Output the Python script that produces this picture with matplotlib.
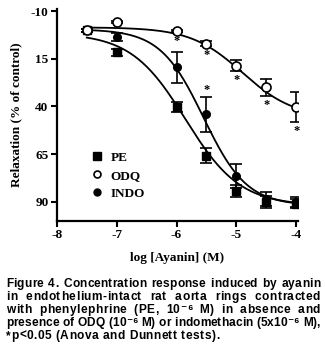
import numpy as np
import matplotlib
matplotlib.use("Agg")
import matplotlib.pyplot as plt
from matplotlib.lines import Line2D

# ---- data ----
log_conc = [-7.5, -7, -6, -5.5, -5, -4.5, -4]
pe_mean = [0.0, 11.7, 40.3, 65.9, 84.3, 90.0, 91.0]
pe_err = [0.8, 2.0, 2.6, 3.9, 3.2, 3.0, 2.5]
odq_mean = [0.0, -4.3, 0.4, 7.0, 18.6, 30.0, 40.3]
odq_err = [0.8, 0.5, 0.6, 1.5, 3.0, 4.5, 8.0]
indo_mean = [0.0, 3.5, 19.5, 44.2, 76.5, 88.5, 90.0]
indo_err = [0.8, 2.2, 8.2, 9.0, 6.5, 3.5, 2.5]
odq_sig = [False, False, True, True, True, True, True]
indo_sig = [False, False, False, True, False, False, False]

# sigmoidal fit parameters (top, bottom, logEC50, hill)
pe_fit = (1.5, 92.0, -5.85, 0.95)
odq_fit = (-1.5, 46.0, -4.9, 1.0)
indo_fit = (-0.5, 92.0, -5.55, 1.2)

series_names = ["PE", "ODQ", "INDO"]
xticks = [-8, -7, -6, -5, -4]
yticks = [-10, 15, 40, 65, 90]

caption_lines = [
    "Figure 4. Concentration response induced by ayanin",
    "in endothelium-intact rat aorta rings contracted",
    "with phenylephrine (PE, 10\u207b\u2076 M) in absence and",
    "presence of ODQ (10\u207b\u2076 M) or indomethacin (5x10\u207b\u2076 M),",
    "*p<0.05 (Anova and Dunnett tests).",
]


def sigmoid(x, p):
    top, bottom, ec, h = p
    return top + (bottom - top) / (1 + 10 ** ((ec - x) * h))


fig = plt.figure(figsize=(3.25, 3.54), dpi=100)
ax = fig.add_axes([0.175, 0.376, 0.742, 0.598])

serif = ["Liberation Serif", "DejaVu Serif"]
xs = np.linspace(-7.5, -4, 200)

ax.plot(xs, sigmoid(xs, pe_fit), color="black", lw=1.3, zorder=2)
ax.plot(xs, sigmoid(xs, odq_fit), color="black", lw=1.3, zorder=2)
ax.plot(xs, sigmoid(xs, indo_fit), color="black", lw=1.3, zorder=2)

ekw = dict(ecolor="black", elinewidth=1.2, capsize=4, capthick=1.2, linestyle="none")
ax.errorbar(log_conc, pe_mean, yerr=pe_err, marker="s", ms=6, mfc="black",
            mec="black", zorder=4, **ekw)
ax.errorbar(log_conc, odq_mean, yerr=odq_err, marker="o", ms=6.5, mfc="white",
            mec="black", mew=1.2, zorder=5, **ekw)
ax.errorbar(log_conc, indo_mean, yerr=indo_err, marker="o", ms=5.5, mfc="black",
            mec="black", zorder=4, **ekw)

for x, m, e, s in zip(log_conc, odq_mean, odq_err, odq_sig):
    if s:
        ax.annotate("*", (x, m + e), xytext=(0, -2), textcoords="offset points",
                    ha="center", va="top", fontsize=9, fontweight="bold",
                    family=serif)
for x, m, e, s in zip(log_conc, indo_mean, indo_err, indo_sig):
    if s:
        ax.annotate("*", (x, m - e), xytext=(0, 1), textcoords="offset points",
                    ha="center", va="bottom", fontsize=9, fontweight="bold",
                    family=serif)

ax.set_xlim(-8, -3.97)
ax.set_ylim(100, -11)
ax.set_xticks(xticks)
ax.set_yticks(yticks)
ax.set_xticklabels([str(t) for t in xticks])
ax.set_yticklabels([str(t) for t in yticks])
for lab in ax.get_xticklabels() + ax.get_yticklabels():
    lab.set_fontfamily(serif)
    lab.set_fontweight("bold")
    lab.set_fontsize(9.5)
ax.tick_params(direction="out", length=4, width=1.5, pad=2)
for sp in ["top", "right"]:
    ax.spines[sp].set_visible(False)
for sp in ["left", "bottom"]:
    ax.spines[sp].set_linewidth(1.6)

ax.set_xlabel("log [Ayanin] (M)", family=serif, fontweight="bold", fontsize=9.5, labelpad=8)
ax.set_ylabel("Relaxation (% of control)", family=serif, fontweight="bold", fontsize=9.5, labelpad=6)

handles = [
    Line2D([], [], marker="s", ms=5.5, mfc="black", mec="black", ls="none"),
    Line2D([], [], marker="o", ms=5, mfc="white", mec="black", mew=1.2, ls="none"),
    Line2D([], [], marker="o", ms=5, mfc="black", mec="black", ls="none"),
]
ax.legend(handles, series_names, loc="upper left", bbox_to_anchor=(0.09, 0.385),
          frameon=False, prop={"family": serif, "weight": "bold", "size": 9.5},
          handletextpad=0.5, labelspacing=0.45, handlelength=1.0)

# caption, justified with letter spacing
sans = ["Liberation Sans", "DejaVu Sans"]
fig.canvas.draw()
r = fig.canvas.get_renderer()
x0, x1 = 6, 320
ypix = [283, 296, 309, 322, 335]
W, H = fig.get_size_inches() * fig.dpi
fs = 8.6
tkw = dict(family=sans, fontweight="bold", fontsize=fs, ha="left", va="baseline")


def text_width(s):
    t = fig.text(0, 0, s, **tkw)
    w = t.get_window_extent(r).width
    t.remove()
    return w


space_w = text_width("a a") - text_width("aa")
for i, (line, yp) in enumerate(zip(caption_lines, ypix)):
    y = 1 - (yp + 4) / H
    chars = list(line)
    cw = [space_w if c == " " else text_width(c) for c in chars]
    natural = sum(cw)
    nspace = chars.count(" ")
    ngaps = len(chars) - 1
    if i == len(caption_lines) - 1:
        letter_gap = 0.5
        word_extra = 0.0
    else:
        extra = (x1 - x0) - natural
        letter_gap = max(0.0, min(0.6, extra * 0.5 / ngaps))
        word_extra = (extra - letter_gap * ngaps) / max(nspace, 1)
    xc = x0
    for c, w in zip(chars, cw):
        if c != " ":
            fig.text(xc / W, y, c, **tkw)
            xc += w + letter_gap
        else:
            xc += w + word_extra + letter_gap

fig.savefig("out.png", dpi=100)
